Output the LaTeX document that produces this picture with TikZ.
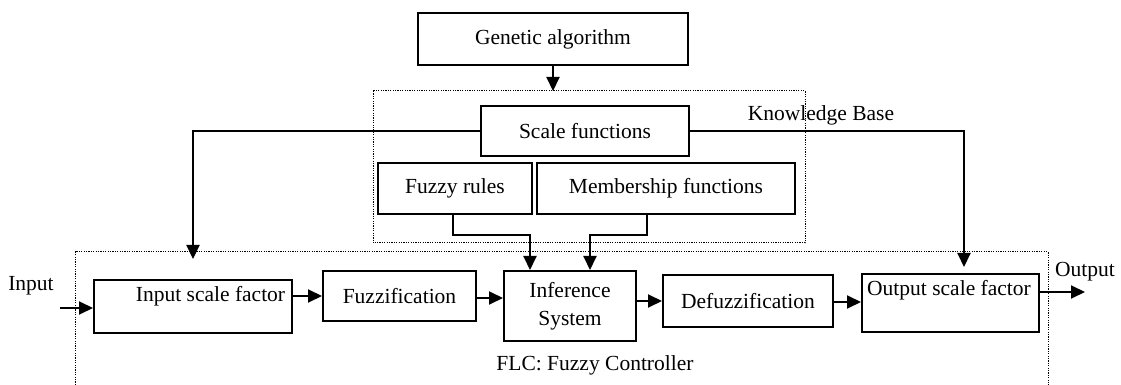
\documentclass[tikz,border=0pt]{standalone}
\usepackage{fontspec}
\setmainfont{Liberation Serif}
\usetikzlibrary{arrows.meta}
\begin{document}
\begin{tikzpicture}[x=0.5pt,y=-0.5pt,
    every node/.style={font=\fontsize{10.75}{14}\selectfont},
    blk/.style={draw,line width=1pt,inner sep=0pt},
    conn/.style={line width=1pt,-{Triangle[length=7pt,width=6.5pt]}},
    frame/.style={line width=0.5pt,dash pattern=on 0.6pt off 0.6pt}]
    \useasboundingbox (0,0) rectangle (1121,385);
    \coordinate (kbnw) at (373,91);
    \coordinate (kbse) at (805,243);
    \draw[frame] (kbnw) rectangle (kbse);
    \draw[frame] (75,385) -- (75,252) -- (1048,252) -- (1048,385);
    \node (kb) at (821,115) {Knowledge Base};
    \node (flc) at (595,365) {FLC: Fuzzy Controller};
    \node[blk,minimum width=135pt,minimum height=26pt] (ga) at (553,39) {Genetic algorithm};
    \node[blk,minimum width=104pt,minimum height=25pt] (sf) at (585,131) {Scale functions};
    \node[blk,minimum width=77pt,minimum height=25.5pt] (fr) at (455,188.5) {Fuzzy rules};
    \node[blk,minimum width=129pt,minimum height=25.5pt] (mf) at (666,188.5) {Membership functions};
    \node[blk,minimum width=99pt,minimum height=26.5pt] (isf) at (193,306.5) {};
    \node (isftxt) at (210.5,296) {Input scale factor};
    \node[blk,minimum width=76.5pt,minimum height=25pt] (fz) at (399.5,296) {Fuzzification};
    \node[blk,minimum width=66pt,minimum height=35pt,align=center] (inf) at (570,306) {Inference\\System};
    \node[blk,minimum width=85pt,minimum height=26pt] (dfz) at (748,301) {Defuzzification};
    \node[blk,minimum width=88.5pt,minimum height=29pt] (osf) at (950.5,303) {};
    \node (osftxt) at (949,290) {Output scale factor};
    \node (in) at (31,286) {Input};
    \node (out) at (1085,272) {Output};
    \coordinate (inp) at (60,308);
    \coordinate (outp) at (1085,292);
    \draw[conn] (ga.south) -- (ga.south |- kbnw);
    \draw[conn] (sf.west) -| ([yshift=10pt]isf.north);
    \draw[conn] (sf.east) -| ([xshift=6.75pt,yshift=3pt]osf.north);
    \draw[conn] ([xshift=-1.25pt]fr.south) -- ++(0,20) -| ([xshift=-20pt]inf.north);
    \draw[conn] ([xshift=-9.5pt]mf.south) -- ++(0,20) -| ([xshift=10pt]inf.north);
    \draw[conn] (inp) -- (inp -| isf.west);
    \draw[conn] (fz.west -| isf.east) -- (fz.west);
    \draw[conn] ([yshift=-1pt]fz.east) -- ([yshift=-1pt]fz.east -| inf.west);
    \draw[conn] (dfz.west -| inf.east) -- (dfz.west);
    \draw[conn] ([yshift=-0.5pt]dfz.east) -- ([yshift=-0.5pt]dfz.east -| osf.west);
    \draw[conn] (osf.east |- outp) -- (outp);
\end{tikzpicture}
\end{document}
